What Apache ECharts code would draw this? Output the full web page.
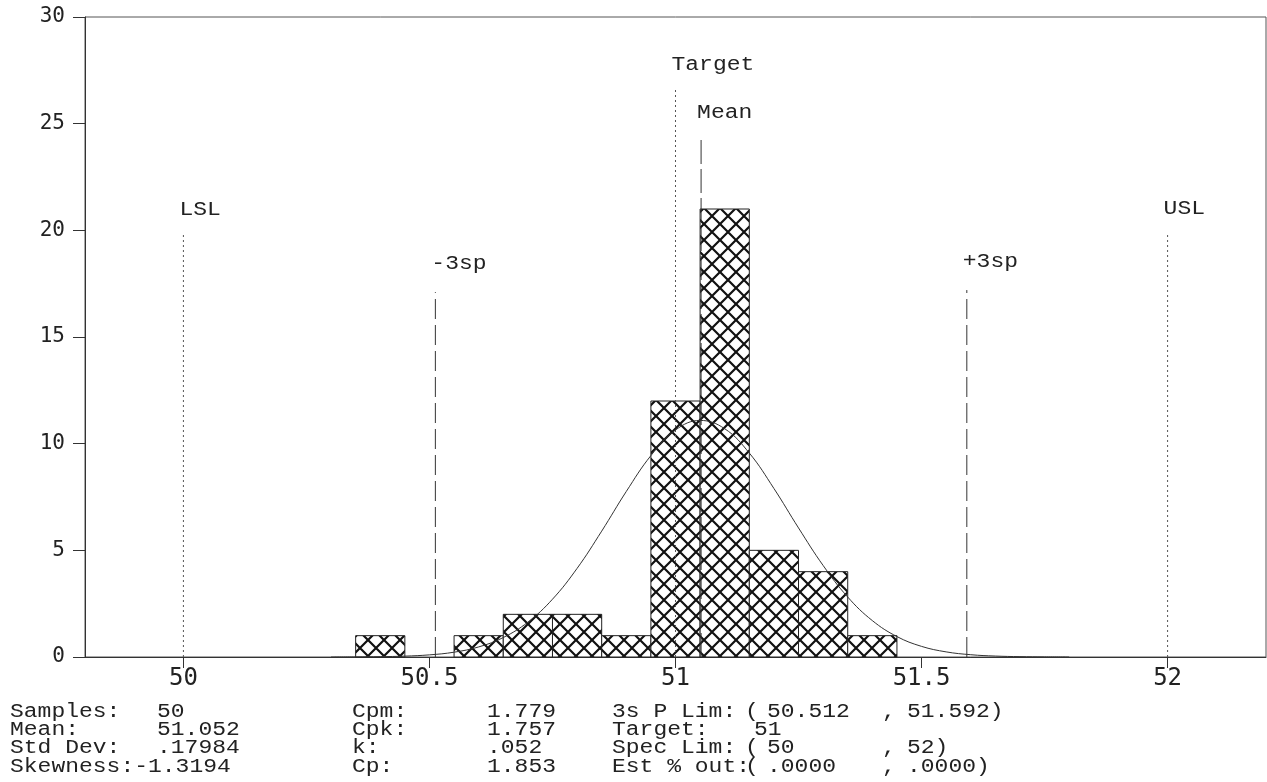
<!DOCTYPE html>
<html>
<head>
<meta charset="utf-8">
<script src="https://cdn.jsdelivr.net/npm/echarts@6/dist/echarts.min.js"></script>
<style>
  html, body { margin: 0; padding: 0; background: #fff; }
  #chart { width: 1267px; height: 782px; }
</style>
</head>
<body>
<div id="chart"></div>
<script>
// ---- histogram: lower bin edges (width 0.1) and counts ----
const binWidth = 0.1;
const binLower = [50.35, 50.45, 50.55, 50.65, 50.75, 50.85, 50.95, 51.05, 51.15, 51.25, 51.35];
const binCounts = [1, 0, 1, 2, 2, 1, 12, 21, 5, 4, 1];

// ---- fitted normal curve (expected count per bin) ----
const curveX = [50.30, 50.35, 50.40, 50.45, 50.50, 50.55, 50.60, 50.65, 50.70, 50.75,
                50.80, 50.85, 50.90, 50.95, 51.00, 51.05, 51.10, 51.15, 51.20, 51.25,
                51.30, 51.35, 51.40, 51.45, 51.50, 51.55, 51.60, 51.65, 51.70, 51.75, 51.80];
const curveY = [0.002, 0.005, 0.016, 0.041, 0.100, 0.225, 0.472, 0.912, 1.635, 2.708,
                4.154, 5.90, 7.76, 9.44, 10.64, 11.09, 10.70, 9.56, 7.90, 6.05,
                4.29, 2.81, 1.706, 0.958, 0.498, 0.240, 0.107, 0.044, 0.017, 0.006, 0.002];

// ---- axis ticks ----
const xTickValues = [50, 50.5, 51, 51.5, 52];
const yMax = 30;
const yStep = 5;

// ---- reference lines: name, position, drawn height ----
const refNames = ['LSL', '-3sp', 'Target', 'Mean', '+3sp', 'USL'];
const refValues = [50, 50.512, 51, 51.052, 51.592, 52];
const refHeights = [19.9, 17.1, 26.7, 24.4, 17.2, 19.9];

// ---- summary statistics ----
const statLabels1 = ['Samples:', 'Mean:', 'Std Dev:', 'Skewness:'];
const statValues1 = ['50', '51.052', '.17984', '-1.3194'];
const statLabels2 = ['Cpm:', 'Cpk:', 'k:', 'Cp:'];
const statValues2 = ['1.779', '1.757', '.052', '1.853'];
const statLabels3 = ['3s P Lim:', 'Target:', 'Spec Lim:', 'Est % out:'];
const statLow3 = ['50.512', '51', '50', '.0000'];
const statHigh3 = ['51.592', '', '52', '.0000'];

// ---- styling ----
const MONO = '"Courier New", "Liberation Mono", monospace';
const AXISFONT = '"DejaVu Sans Mono", monospace';
const INK = '#222';
const STAT_SIZE = 23;
const refLineStyle = {
  'LSL':    { dash: [2, 3],  color: '#555', gap: 23 },
  '-3sp':   { dash: [20, 6], color: '#333', gap: 29 },
  'Target': { dash: [2, 3],  color: '#555', gap: 23 },
  'Mean':   { dash: [24, 5], color: '#333', gap: 23.5 },
  '+3sp':   { dash: [20, 6], color: '#333', gap: 28 },
  'USL':    { dash: [2, 3],  color: '#555', gap: 24 }
};

// cross-hatch fill for the bars
function makeHatch() {
  const s = 16;
  const c = document.createElement('canvas');
  c.width = s; c.height = s;
  const g = c.getContext('2d');
  g.fillStyle = '#fff';
  g.fillRect(0, 0, s, s);
  g.strokeStyle = '#111';
  g.lineWidth = 2.2;
  g.beginPath();
  g.moveTo(-2, -2); g.lineTo(s + 2, s + 2);
  g.moveTo(s + 2, -2); g.lineTo(-2, s + 2);
  g.stroke();
  return c;
}
const hatch = makeHatch();

// text helper for the statistics block
function txt(str, x, y) {
  return {
    type: 'text', x: x, y: y, scaleY: 0.87, silent: true,
    style: {
      text: str, fontFamily: MONO, fontSize: STAT_SIZE, fill: INK,
      align: 'left', textAlign: 'left',
      verticalAlign: 'middle', textVerticalAlign: 'middle'
    }
  };
}

const statElements = [];
const charW = STAT_SIZE * 0.6;
for (let i = 0; i < 4; i++) {
  const y = 711.5 + i * 18.3;
  // column 1: label, value in its own column unless the label runs into it
  const c1 = 10;
  statElements.push(txt(statLabels1[i], c1, y));
  const v1x = statLabels1[i].length > 8 ? c1 + statLabels1[i].length * charW : 157;
  statElements.push(txt(statValues1[i], v1x, y));
  // column 2
  statElements.push(txt(statLabels2[i], 352, y));
  statElements.push(txt(statValues2[i], 487, y));
  // column 3
  statElements.push(txt(statLabels3[i], 612, y));
  if (statHigh3[i]) {
    statElements.push(txt('(', 745, y));
    statElements.push(txt(statLow3[i], 767, y));
    statElements.push(txt(',', 882, y));
    statElements.push(txt(statHigh3[i] + ')', 907, y));
  } else {
    statElements.push(txt(statLow3[i], 754, y));
  }
}

const chart = echarts.init(document.getElementById('chart'));

chart.setOption({
  animation: false,
  backgroundColor: '#fff',
  grid: {
    left: 85, right: 1, top: 17, bottom: 125,
    show: true, borderColor: '#555', borderWidth: 1,
    containLabel: false, outerBoundsMode: 'none'
  },
  xAxis: {
    type: 'value', min: 49.8, max: 52.2,
    splitLine: { show: false },
    axisLine: { show: true, onZero: false, lineStyle: { color: '#333', width: 1 } },
    axisTick: { show: true, customValues: xTickValues, length: 11, lineStyle: { color: '#333' } },
    axisLabel: {
      customValues: xTickValues, margin: 10,
      fontFamily: AXISFONT, fontSize: 24, color: INK
    }
  },
  yAxis: {
    type: 'value', min: 0, max: yMax, interval: yStep,
    splitLine: { show: false },
    axisLine: { show: true, lineStyle: { color: '#333', width: 1 } },
    axisTick: { show: true, length: 12, lineStyle: { color: '#333' } },
    axisLabel: { margin: 20, fontFamily: AXISFONT, fontSize: 21, color: INK }
  },
  series: [
    {
      // histogram bars
      type: 'custom',
      z: 2,
      data: binLower.map((x, i) => [x, binCounts[i]]),
      renderItem: function (params, api) {
        const x0 = api.value(0), n = api.value(1);
        if (!n) return null;
        const p0 = api.coord([x0, n]);
        const p1 = api.coord([x0 + binWidth, 0]);
        return {
          type: 'rect',
          shape: { x: p0[0], y: p0[1], width: p1[0] - p0[0], height: p1[1] - p0[1] },
          style: { fill: { image: hatch, repeat: 'repeat' }, stroke: '#222', lineWidth: 1 }
        };
      }
    },
    {
      // normal fit
      type: 'line',
      z: 4,
      data: curveX.map((x, i) => [x, curveY[i]]),
      showSymbol: false,
      smooth: 0.4,
      lineStyle: { color: '#333', width: 1 }
    },
    {
      // spec limits, target, mean and process limits
      type: 'custom',
      z: 3,
      data: refValues.map((x, i) => [x, refHeights[i]]),
      renderItem: function (params, api) {
        const i = params.dataIndex;
        const name = refNames[i];
        const st = refLineStyle[name];
        const p0 = api.coord([api.value(0), 0]);
        const p1 = api.coord([api.value(0), api.value(1)]);
        return {
          type: 'group',
          children: [
            {
              type: 'line',
              shape: { x1: p0[0], y1: p0[1], x2: p1[0], y2: p1[1] },
              style: { stroke: st.color, lineWidth: 1, lineDash: st.dash }
            },
            {
              type: 'text',
              x: p1[0] - 4, y: p1[1] - st.gap, scaleY: 0.87,
              style: {
                text: name, fontFamily: MONO, fontSize: STAT_SIZE, fill: INK,
                align: 'left', verticalAlign: 'middle'
              }
            }
          ]
        };
      }
    }
  ],
  graphic: { elements: statElements }
});
</script>
</body>
</html>
